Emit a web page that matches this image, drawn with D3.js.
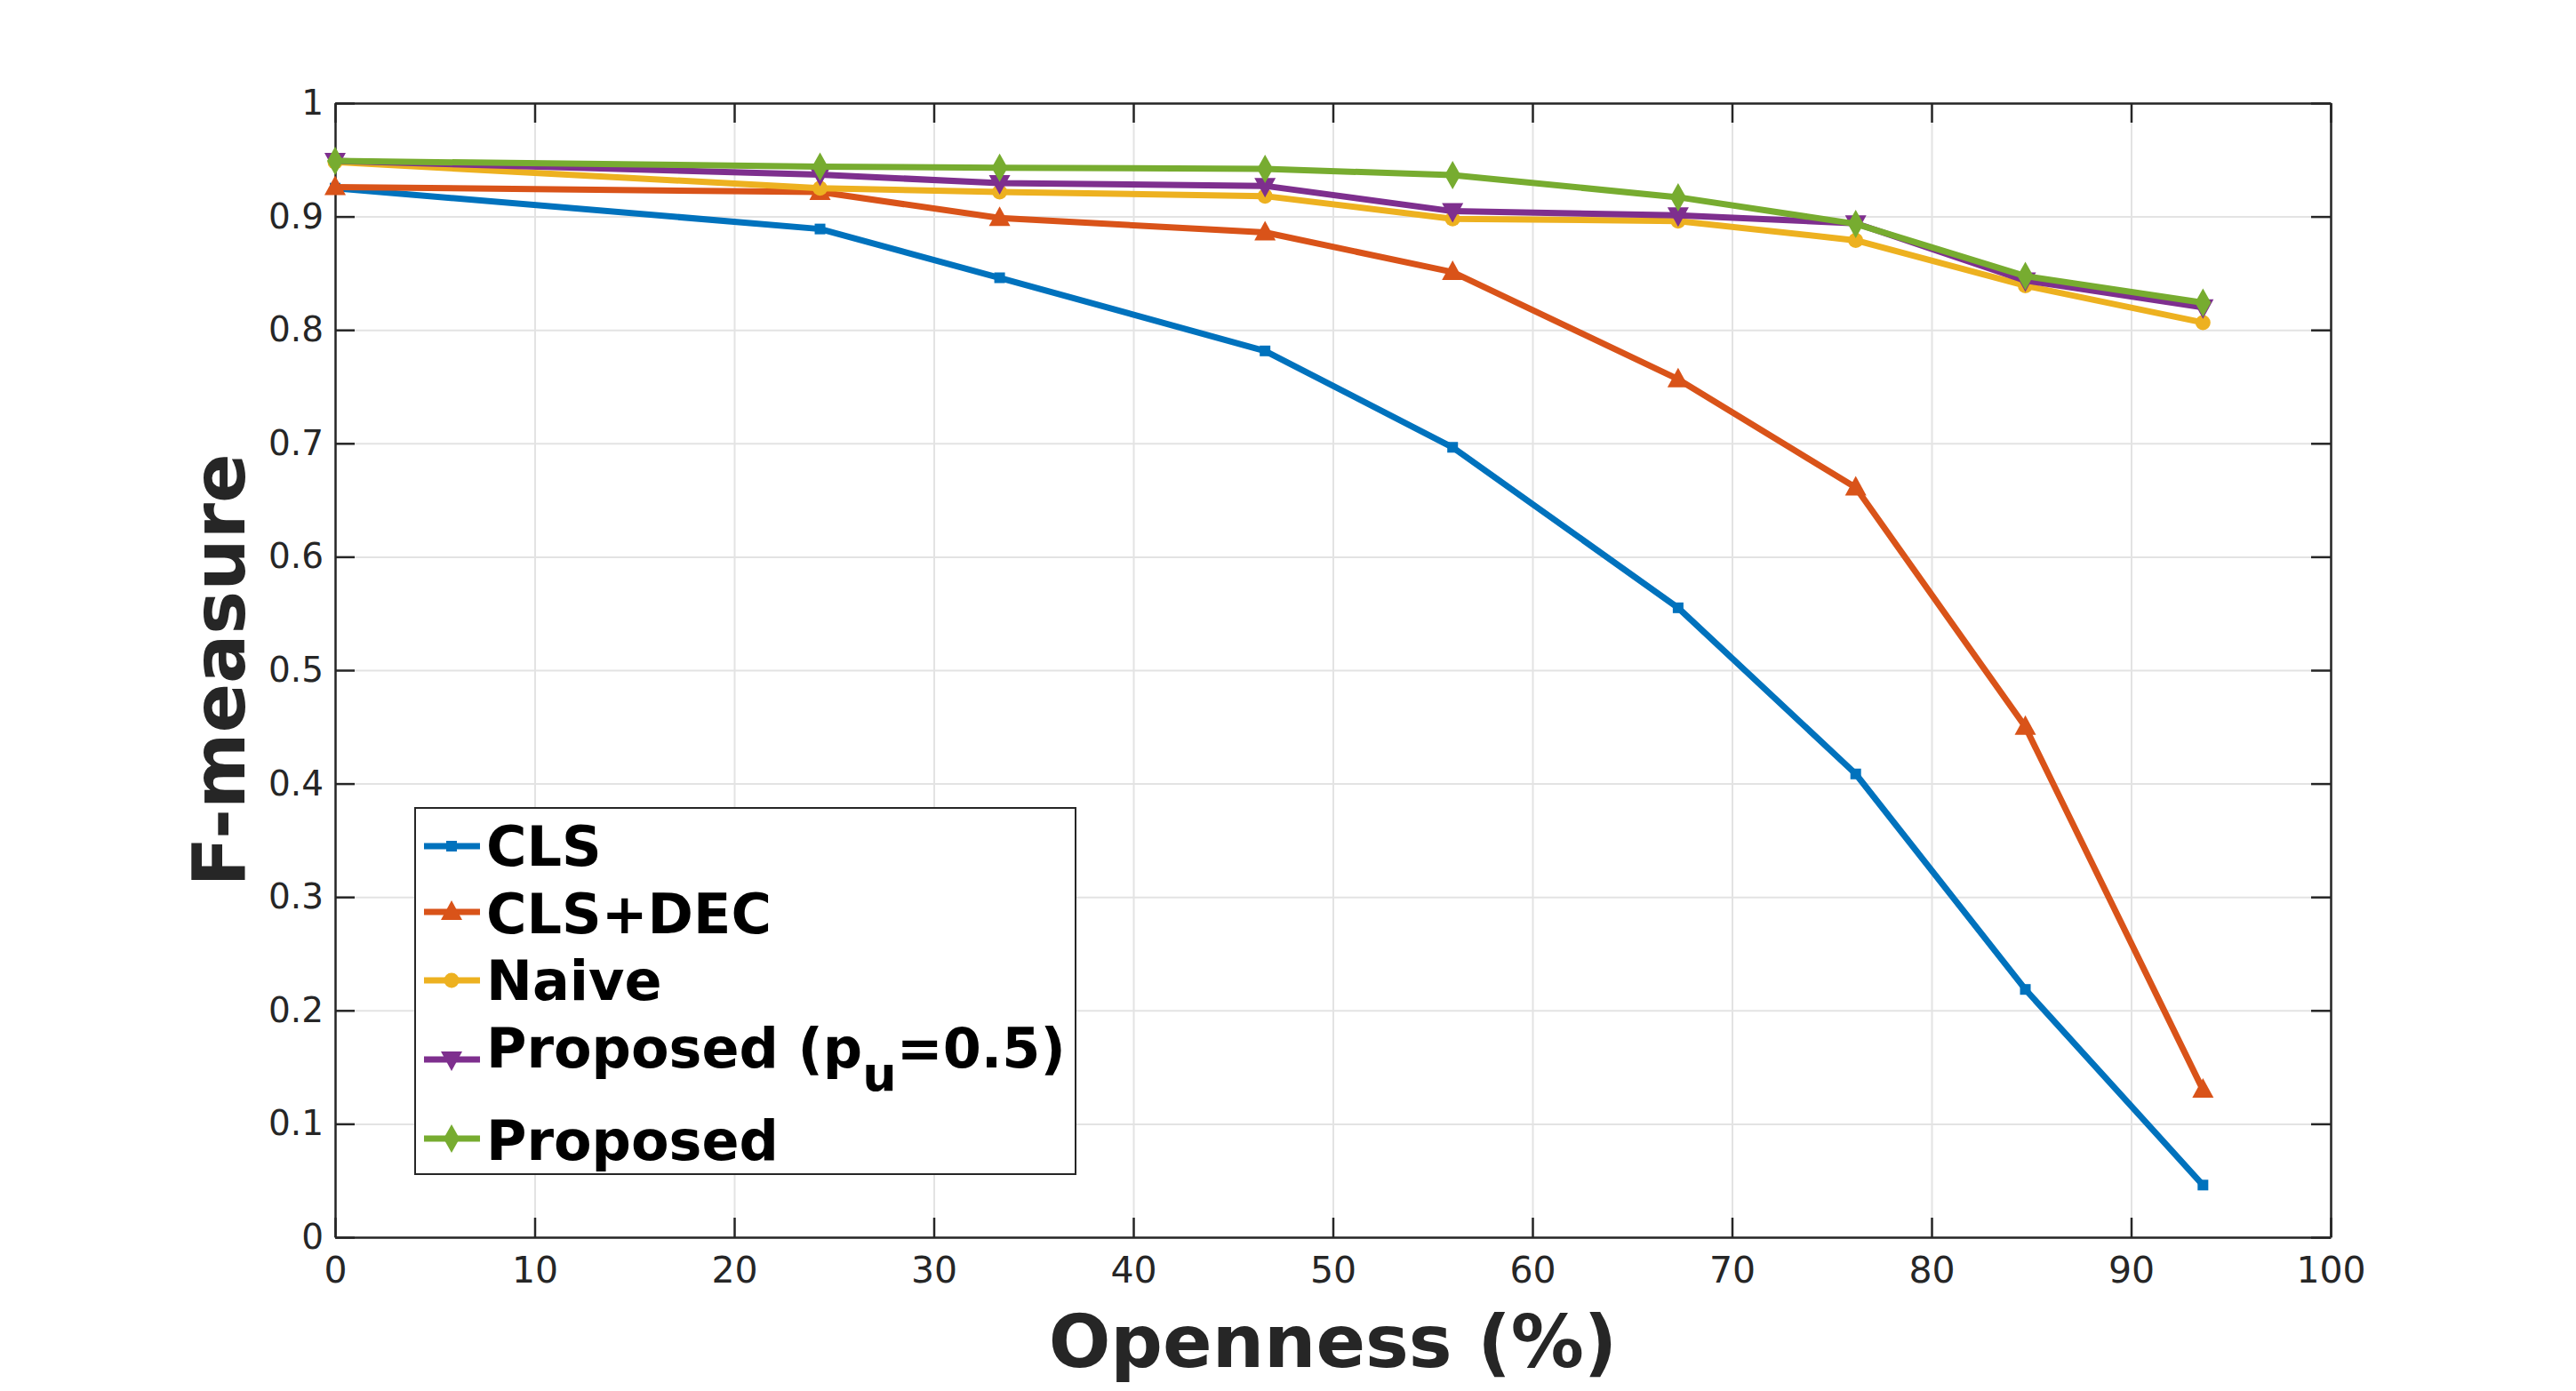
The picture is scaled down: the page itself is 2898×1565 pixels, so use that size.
<!DOCTYPE html>
<html>
<head>
    <meta charset="utf-8" />
    <script src="https://d3js.org/d3.v7.min.js"></script>
    <style>
        body { margin: 0; background: #fff; }
        text { font-family: "DejaVu Sans", sans-serif; }
    </style>
</head>
<body>
    <script>
        // data
        const openness = [0, 24.3, 33.3, 46.6, 56.0, 67.3, 76.2, 84.7, 93.6];
        const cls = [0.925, 0.889, 0.846, 0.7815, 0.6965, 0.555, 0.4085, 0.2185, 0.046];
        const clsDec = [0.926, 0.9216, 0.8987, 0.886, 0.851, 0.7565, 0.661, 0.45, 0.13];
        const naive = [0.948, 0.925, 0.9216, 0.918, 0.898, 0.896, 0.879, 0.839, 0.8065];
        const proposedPu = [0.949, 0.937, 0.9294, 0.927, 0.9047, 0.901, 0.894, 0.8436, 0.820];
        const proposed = [0.949, 0.944, 0.943, 0.942, 0.9365, 0.917, 0.8935, 0.8475, 0.824];
        const seriesNames = ['CLS', 'CLS+DEC', 'Naive', 'Proposed (pu=0.5)', 'Proposed'];
        const xTicks = [0, 10, 20, 30, 40, 50, 60, 70, 80, 90, 100];
        const yTicks = [0, 0.1, 0.2, 0.3, 0.4, 0.5, 0.6, 0.7, 0.8, 0.9, 1];

        const series = [
            { name: seriesNames[0], values: cls, color: '#0072BD', marker: 'square' },
            { name: seriesNames[1], values: clsDec, color: '#D95319', marker: 'up' },
            { name: seriesNames[2], values: naive, color: '#EDB120', marker: 'circle' },
            { name: seriesNames[3], values: proposedPu, color: '#7E2F8E', marker: 'down' },
            { name: seriesNames[4], values: proposed, color: '#77AC30', marker: 'diamond' }
        ];

        // dimensions
        const W = 2898, H = 1565;
        const margin = { top: 116, right: 276, bottom: 173, left: 377 };
        const width = W - margin.left - margin.right;
        const height = H - margin.top - margin.bottom;
        const axisColor = '#262626';

        const svg = d3.select('body').append('svg')
            .attr('width', W)
            .attr('height', H);

        const g = svg.append('g')
            .attr('transform', `translate(${margin.left},${margin.top})`);

        const x = d3.scaleLinear().domain([0, 100]).range([0, width]);
        const y = d3.scaleLinear().domain([0, 1]).range([height, 0]);

        // grid
        g.append('g')
            .attr('transform', `translate(0,${height})`)
            .call(d3.axisBottom(x).tickValues(xTicks).tickSize(-height).tickFormat(''))
            .call(s => s.select('.domain').remove())
            .call(s => s.selectAll('line').attr('stroke', '#e3e3e3').attr('stroke-width', 2));
        g.append('g')
            .call(d3.axisLeft(y).tickValues(yTicks).tickSize(-width).tickFormat(''))
            .call(s => s.select('.domain').remove())
            .call(s => s.selectAll('line').attr('stroke', '#e3e3e3').attr('stroke-width', 2));

        // axes with inward ticks
        const tl = 22;
        const styleAxis = s => {
            s.select('.domain').attr('stroke', axisColor).attr('stroke-width', 2.5);
            s.selectAll('.tick line').attr('stroke', axisColor).attr('stroke-width', 2.5);
        };
        const xAxis = g.append('g')
            .attr('transform', `translate(0,${height})`)
            .call(d3.axisBottom(x).tickValues(xTicks).tickSizeInner(-tl).tickSizeOuter(0).tickPadding(22))
            .call(styleAxis);
        xAxis.selectAll('.tick text')
            .attr('fill', axisColor).style('font-size', '41px');

        const yAxis = g.append('g')
            .call(d3.axisLeft(y).tickValues(yTicks).tickSizeInner(-tl).tickSizeOuter(0).tickPadding(13)
                .tickFormat(d => d === 0 || d === 1 ? d3.format('d')(d) : d3.format('.1f')(d)))
            .call(styleAxis);
        yAxis.selectAll('.tick text')
            .attr('fill', axisColor).style('font-size', '39px');

        g.append('g')
            .call(d3.axisTop(x).tickValues(xTicks).tickSizeInner(-tl).tickSizeOuter(0).tickFormat(''))
            .call(styleAxis);
        g.append('g')
            .attr('transform', `translate(${width},0)`)
            .call(d3.axisRight(y).tickValues(yTicks).tickSizeInner(-tl).tickSizeOuter(0).tickFormat(''))
            .call(styleAxis);

        // axis labels
        svg.append('text')
            .attr('x', margin.left + width / 2)
            .attr('y', 1538)
            .attr('text-anchor', 'middle')
            .attr('fill', axisColor)
            .style('font-size', '82px')
            .style('font-weight', 'bold')
            .text('Openness (%)');

        svg.append('text')
            .attr('transform', `translate(275,${margin.top + height / 2}) rotate(-90)`)
            .attr('text-anchor', 'middle')
            .attr('fill', axisColor)
            .style('font-size', '82px')
            .style('font-weight', 'bold')
            .text('F-measure');

        // markers
        function drawMarker(sel, type, color, cx, cy) {
            if (type === 'square') {
                sel.append('rect').attr('x', cx - 6).attr('y', cy - 6).attr('width', 12).attr('height', 12)
                    .attr('fill', color);
            } else if (type === 'circle') {
                sel.append('circle').attr('cx', cx).attr('cy', cy).attr('r', 8.5).attr('fill', color);
            } else if (type === 'up') {
                sel.append('path').attr('d', `M${cx},${cy - 13}L${cx + 12},${cy + 9}L${cx - 12},${cy + 9}Z`)
                    .attr('fill', color);
            } else if (type === 'down') {
                sel.append('path').attr('d', `M${cx},${cy + 13}L${cx + 12},${cy - 9}L${cx - 12},${cy - 9}Z`)
                    .attr('fill', color);
            } else if (type === 'diamond') {
                sel.append('path').attr('d', `M${cx},${cy - 16}L${cx + 9},${cy}L${cx},${cy + 16}L${cx - 9},${cy}Z`)
                    .attr('fill', color);
            }
        }

        const line = d3.line()
            .x((d, i) => x(openness[i]))
            .y(d => y(d));

        series.forEach(s => {
            const sg = g.append('g');
            sg.append('path')
                .attr('d', line(s.values))
                .attr('fill', 'none')
                .attr('stroke', s.color)
                .attr('stroke-width', 7)
                .attr('stroke-linejoin', 'round');
            s.values.forEach((v, i) => drawMarker(sg, s.marker, s.color, x(openness[i]), y(v)));
        });

        // legend
        const legend = svg.append('g');
        legend.append('rect')
            .attr('x', 467).attr('y', 909)
            .attr('width', 743).attr('height', 412)
            .attr('fill', '#fff')
            .attr('stroke', axisColor)
            .attr('stroke-width', 2);

        const legendY = [952, 1026, 1103, 1192, 1281];
        const textY = [974, 1050, 1125, 1201, 1305];
        series.forEach((s, i) => {
            legend.append('line')
                .attr('x1', 477).attr('x2', 540)
                .attr('y1', legendY[i]).attr('y2', legendY[i])
                .attr('stroke', s.color).attr('stroke-width', 7);
            drawMarker(legend, s.marker, s.color, 508, legendY[i]);
            const t = legend.append('text')
                .attr('x', 547).attr('y', textY[i])
                .attr('fill', '#000')
                .style('font-size', '62px')
                .style('font-weight', 'bold');
            if (s.name === 'Proposed (pu=0.5)') {
                t.append('tspan').text('Proposed (p');
                t.append('tspan').attr('dy', 26).style('font-size', '54px').text('u');
                t.append('tspan').attr('dy', -26).text('=0.5)');
            } else {
                t.text(s.name);
            }
        });
    </script>
</body>
</html>
